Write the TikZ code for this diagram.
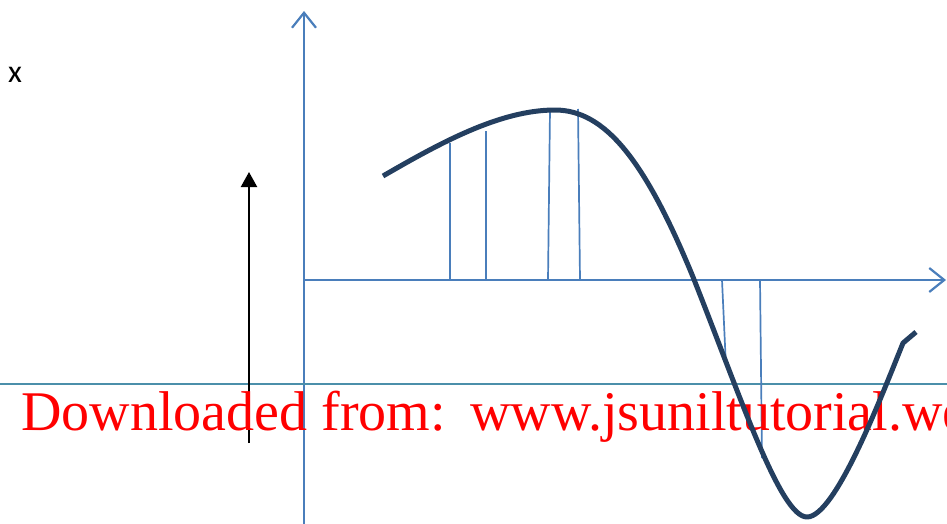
\documentclass[tikz,border=0pt]{standalone}
\usepackage{fontspec}
\setmainfont{Liberation Serif}
\newfontfamily\labelfont{Carlito}
\newfontfamily\wmfont{Liberation Serif}
\usetikzlibrary{arrows.meta}
\definecolor{axisblue}{HTML}{4A7EBB}
\definecolor{tealline}{HTML}{4B8FAA}
\definecolor{curvenavy}{HTML}{243F60}
\tikzset{
  axisline/.style={draw=axisblue, line width=2.4pt, -{Straight Barb[length=15pt,width=24pt,line width=2.2pt]}},
  ordinate/.style={draw=axisblue, line width=1.7pt},
  wave/.style={draw=curvenavy, line width=5pt, line join=round},
  blackarrow/.style={draw=black, line width=2.2pt, -{Triangle[length=15pt,width=16pt]}},
}
\begin{document}
\begin{tikzpicture}[x=1pt,y=-1pt]
\useasboundingbox (0,0) rectangle (947,524);
\clip (0,0) rectangle (947,524);
% axes
\coordinate (ybot) at (304,526);
\coordinate (ytop) at (304,11);
\coordinate (xleft) at (304,280);
\coordinate (xright) at (946,280);
\draw[axisline] (ybot) -- (ytop);
\draw[axisline] (xleft) -- (xright);
% teal line
\coordinate (tl) at (0,384);
\coordinate (tr) at (947,384);
\draw[draw=tealline, line width=2.2pt] (tl) -- (tr);
% label x
\node[font=\labelfont\fontsize{32}{36}\selectfont, anchor=base west, inner sep=0pt] (xlab) at (8,83) {x};
% black arrow
\coordinate (ba1) at (249,443);
\coordinate (ba2) at (249,172);
\draw[blackarrow] (ba1) -- (ba2);
% ordinates
\draw[ordinate] (450,280) -- (450,143);
\draw[ordinate] (486,280) -- (486,131);
\draw[ordinate] (548,280) -- (550,109);
\draw[ordinate] (580,280) -- (578,109);
\draw[ordinate] (722,280) -- (726,367);
\draw[ordinate] (760,280) -- (762,458);
% watermark text
\node[font=\wmfont\fontsize{56}{60}\selectfont, text=red, anchor=base west, inner sep=0pt] (wm) at (21,430) {Downloaded from:\hspace{6pt} www.jsuniltutorial.weebly.com};
% curve
\coordinate (c0) at (383,176);
\coordinate (c1) at (555,110);
\coordinate (c2) at (693,277);
\coordinate (c3) at (807,517);
\coordinate (c4) at (903,343);
\coordinate (c5) at (916,332);
\draw[wave] (c0) .. controls (440,143) and (500,110) .. (c1)
  .. controls (605,110) and (645,160) .. (c2)
  .. controls (740,395) and (780,517) .. (c3)
  .. controls (835,517) and (880,400) .. (c4) -- (c5);
\end{tikzpicture}
\end{document}
